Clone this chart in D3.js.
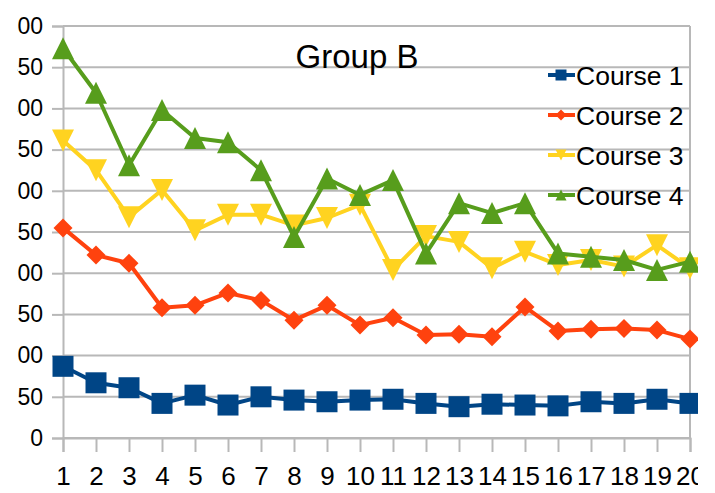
<!DOCTYPE html>
<html>
<head>
<meta charset="utf-8">
<script src="https://cdn.jsdelivr.net/npm/d3@7"></script>
<style>
  html, body { margin: 0; padding: 0; background: #fff; }
  svg { display: block; font-family: "Liberation Sans", Arial, sans-serif; }
</style>
</head>
<body>
<svg class="chart" width="715" height="493"></svg>
<script>
// data
let points = d3.range(1, 21);
let yTicks = [0, 50, 100, 150, 200, 250, 300, 350, 400, 450, 500];
let seriesNames = ["Course 1", "Course 2", "Course 3", "Course 4"];
let course1 = [87, 67, 61, 42, 52, 40, 50, 46, 44, 46, 47, 42, 38, 41, 40, 39, 44, 42, 47, 42];
let course2 = [255, 222, 212, 158, 161, 176, 167, 143, 161, 137, 146, 125, 126, 123, 159, 130, 132, 133, 131, 120];
let course3 = [361, 325, 268, 301, 252, 271, 271, 258, 267, 283, 204, 245, 238, 206, 226, 210, 216, 208, 234, 206];
let course4 = [473, 419, 331, 398, 364, 359, 325, 244, 315, 295, 313, 224, 285, 273, 285, 224, 220, 216, 204, 214];
let colors = ["#004586", "#ff420e", "#ffd320", "#579d1c"];
let title = "Group B";

let margin = { top: 26, right: 25, bottom: 55, left: 63 };
let svg = d3.select(".chart");
let W = +svg.attr("width"), H = +svg.attr("height");
let width = W - margin.left - margin.right;
let height = H - margin.top - margin.bottom;

// the source picture is cropped on both sides
svg.append("clipPath").attr("id", "crop")
  .append("rect").attr("x", 17).attr("y", 0).attr("width", 681).attr("height", H);

let g = svg.append("g")
  .attr("clip-path", "url(#crop)")
  .append("g")
  .attr("transform", translate(margin.left, margin.top));

let x = d3.scaleLinear().domain([1, 20]).range([0, width]);
let y = d3.scaleLinear().domain([0, 500]).range([height, 0]);

let grid = "#b8b8b8";

// gridlines
g.selectAll(".grid")
  .data(yTicks).enter()
  .append("line")
  .attr("x1", 0).attr("x2", width)
  .attr("y1", d => y(d)).attr("y2", d => y(d))
  .style("stroke", grid).style("stroke-width", 2);

// right border
g.append("line")
  .attr("x1", width).attr("x2", width)
  .attr("y1", 0).attr("y2", height)
  .style("stroke", grid).style("stroke-width", 2);

// y axis
let yAxis = g.append("g")
  .call(d3.axisLeft(y).tickValues(yTicks).tickSize(11).tickPadding(9).tickFormat(d3.format("d")));
// x axis
let xAxis = g.append("g")
  .attr("transform", translate(0, height))
  .call(d3.axisBottom(x).tickValues(points).tickSize(14).tickPadding(15).tickFormat(d3.format("d")));

[yAxis, xAxis].forEach(function(a) {
  a.select(".domain").style("stroke", grid).style("stroke-width", 2);
  a.selectAll(".tick line").style("stroke", grid).style("stroke-width", 2);
  a.selectAll("text").style("fill", "#000").style("font-family", "Liberation Sans, Arial, sans-serif");
});
yAxis.selectAll("text").style("font-size", "23px");
xAxis.selectAll("text").style("font-size", "26px");

// marker shapes
function marker(kind, s) {
  let h = s / 2;
  if (kind === 0) return "M" + (-h) + "," + (-h) + "H" + h + "V" + h + "H" + (-h) + "Z";
  if (kind === 1) return "M0," + (-h) + "L" + h + ",0L0," + h + "L" + (-h) + ",0Z";
  if (kind === 2) return "M" + (-h) + "," + (-h) + "H" + h + "L0," + h + "Z";
  return "M0," + (-h) + "L" + h + "," + h + "H" + (-h) + "Z";
}
let markerSize = [21, 19, 22, 22];

let allSeries = [course1, course2, course3, course4];
let line = d3.line().x((d, i) => x(points[i])).y(d => y(d));

allSeries.forEach(function(vals, k) {
  g.append("path")
    .attr("d", line(vals))
    .style("fill", "none")
    .style("stroke", colors[k])
    .style("stroke-width", 4)
    .style("stroke-linejoin", "round");
  g.selectAll(".m" + k)
    .data(vals).enter()
    .append("path")
    .attr("transform", (d, i) => translate(x(points[i]), y(d)))
    .attr("d", marker(k, markerSize[k]))
    .style("fill", colors[k]);
});

// title
g.append("text")
  .attr("x", 357 - margin.left)
  .attr("y", 68 - margin.top)
  .style("text-anchor", "middle")
  .style("font-size", "33px")
  .style("fill", "#000")
  .text(title);

// legend
let legend = g.append("g").attr("transform", translate(548 - margin.left, 75 - margin.top));
seriesNames.forEach(function(name, k) {
  let row = legend.append("g").attr("transform", translate(0, k * 40));
  row.append("line")
    .attr("x1", 0).attr("x2", 27).attr("y1", 0).attr("y2", 0)
    .style("stroke", colors[k]).style("stroke-width", 4);
  row.append("path")
    .attr("transform", translate(13, 0))
    .attr("d", marker(k, 11))
    .style("fill", colors[k]);
  row.append("text")
    .attr("x", 28)
    .attr("y", 0)
    .attr("dy", "0.36em")
    .style("font-size", "26.5px")
    .style("fill", "#000")
    .text(name);
});

function translate(x, y) {
  return "translate(" + x + "," + y + ")";
}
</script>
</body>
</html>
